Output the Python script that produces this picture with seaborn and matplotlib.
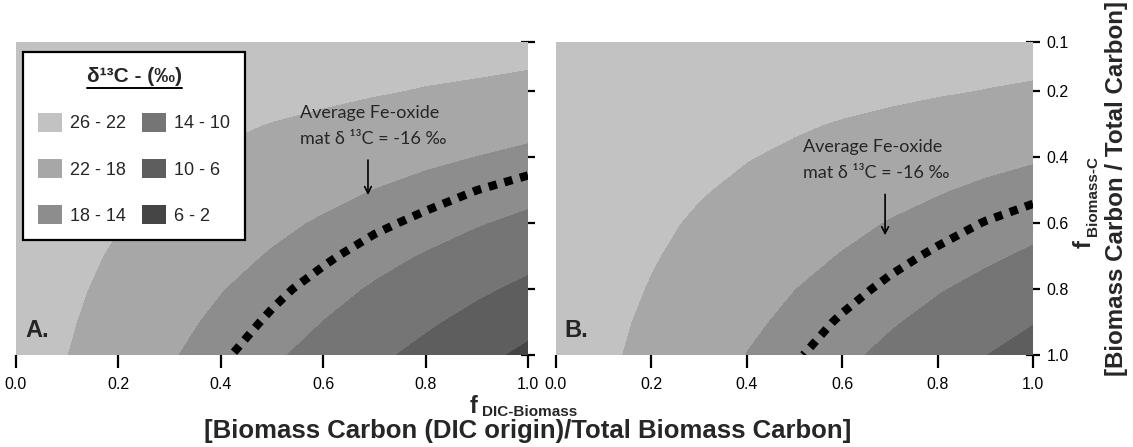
import numpy as np
import matplotlib
matplotlib.use("Agg")
import matplotlib.pyplot as plt
import seaborn as sns
from matplotlib.patches import Patch
from matplotlib.lines import Line2D

# grid: fraction of DIC-derived biomass (x) and biomass share of total carbon (y)
x_frac = [0.0, 0.1, 0.2, 0.3, 0.4, 0.5, 0.6, 0.7, 0.8, 0.9, 1.0]
y_frac = [0.1, 0.2, 0.3, 0.4, 0.5, 0.6, 0.7, 0.8, 0.9, 1.0]

# delta13C magnitude (per mil, negative sign dropped) - panel A
d13c_a = [
    [25.0, 24.8, 24.6, 24.4, 24.2, 24.0, 23.9, 23.7, 23.5, 23.3, 23.1],
    [24.9, 24.5, 24.1, 23.7, 23.4, 23.0, 22.6, 22.2, 21.8, 21.5, 21.1],
    [24.7, 24.2, 23.6, 23.0, 22.5, 21.9, 21.4, 20.8, 20.2, 19.7, 19.1],
    [24.6, 23.9, 23.1, 22.4, 21.6, 20.9, 20.1, 19.4, 18.6, 17.9, 17.1],
    [24.5, 23.6, 22.6, 21.7, 20.7, 19.8, 18.9, 17.9, 17.0, 16.0, 15.1],
    [24.4, 23.3, 22.1, 21.0, 19.9, 18.7, 17.6, 16.5, 15.4, 14.2, 13.1],
    [24.3, 22.9, 21.6, 20.3, 19.0, 17.7, 16.4, 15.0, 13.7, 12.4, 11.1],
    [24.1, 22.6, 21.1, 19.6, 18.1, 16.6, 15.1, 13.6, 12.1, 10.6, 9.1],
    [24.0, 22.3, 20.6, 18.9, 17.3, 15.6, 13.9, 12.2, 10.5, 8.8, 7.1],
    [23.9, 22.0, 20.1, 18.3, 16.4, 14.5, 12.6, 10.7, 8.9, 7.0, 5.1],
]
# panel B
d13c_b = [
    [24.8, 24.7, 24.5, 24.4, 24.2, 24.0, 23.9, 23.7, 23.6, 23.4, 23.3],
    [24.8, 24.4, 24.1, 23.8, 23.5, 23.2, 22.9, 22.5, 22.2, 21.9, 21.6],
    [24.7, 24.2, 23.7, 23.3, 22.8, 22.3, 21.8, 21.4, 20.9, 20.4, 19.9],
    [24.6, 24.0, 23.4, 22.7, 22.1, 21.5, 20.8, 20.2, 19.6, 18.9, 18.3],
    [24.6, 23.8, 23.0, 22.2, 21.4, 20.6, 19.8, 19.0, 18.2, 17.4, 16.7],
    [24.5, 23.5, 22.6, 21.6, 20.7, 19.7, 18.8, 17.8, 16.9, 15.9, 15.0],
    [24.4, 23.3, 22.2, 21.1, 20.0, 18.9, 17.8, 16.7, 15.6, 14.5, 13.4],
    [24.3, 23.1, 21.8, 20.5, 19.3, 18.0, 16.8, 15.5, 14.2, 13.0, 11.7],
    [24.3, 22.8, 21.4, 20.0, 18.6, 17.2, 15.7, 14.3, 12.9, 11.5, 10.1],
    [24.2, 22.6, 21.0, 19.5, 17.9, 16.3, 14.7, 13.1, 11.6, 10.0, 8.4],
]

band_levels = [2, 6, 10, 14, 18, 22, 26]
band_labels = ['26 - 22', '22 - 18', '18 - 14', '14 - 10', '10 - 6', '6 - 2']
band_colors = ['#c2c2c2', '#a7a7a7', '#8d8d8d', '#757575', '#5e5e5e', '#454545']
fe_oxide_level = 16

x_ticks = [0.0, 0.2, 0.4, 0.6, 0.8, 1.0]
y_ticks = [0.1, 0.2, 0.4, 0.6, 0.8, 1.0]

sns.set_theme(style='white')
plt.rcParams['font.family'] = ['Liberation Sans', 'DejaVu Sans']
note_font = ['Lato', 'DejaVu Sans']


# y axis in the original is stretched between 0.1 and 0.2
def y_fwd(y):
    return np.interp(y, [-10, 0.1, 0.2, 10], [-15.1, 0.05, 0.2, 10])


def y_inv(v):
    return np.interp(v, [-15.1, 0.05, 0.2, 10], [-10, 0.1, 0.2, 10])


fig = plt.figure(figsize=(11.33, 4.47), dpi=100)
ax_a = fig.add_axes([0.0141, 0.2058, 0.4519, 0.7002])
ax_b = fig.add_axes([0.4907, 0.2058, 0.4210, 0.7002])


def draw_panel(ax, z, tag, note_xy, arrow_x, arrow_y):
    z = np.array(z)
    ax.set_yscale('function', functions=(y_fwd, y_inv))
    ax.contourf(x_frac, y_frac, z, levels=band_levels, colors=band_colors[::-1])
    cs = ax.contour(x_frac, y_frac, z, levels=[fe_oxide_level], colors='black', linewidths=6)
    cs.set_linestyle((0, (1, 0.95)))
    cs.set_capstyle('butt')
    ax.set_xlim(0, 1)
    ax.set_ylim(1.0, 0.1)
    for s in ax.spines.values():
        s.set_visible(False)
    ax.set_xticks(x_ticks)
    ax.set_xticklabels(['%.1f' % t for t in x_ticks])
    ax.yaxis.tick_right()
    ax.set_yticks(y_ticks)
    ax.set_yticklabels(['%.1f' % t for t in y_ticks])
    ax.tick_params(axis='x', bottom=True, direction='out', length=9, width=1.6,
                   pad=7, labelsize=11.5, colors='black')
    ax.tick_params(axis='y', right=True, left=False, direction='inout', length=10,
                   width=1.6, pad=5, labelsize=11.5, colors='black')
    ax.text(0.018, 0.04, tag, transform=ax.transAxes, fontsize=17,
            fontweight='bold', va='bottom', ha='left')
    ax.text(note_xy[0], note_xy[1], 'Average Fe-oxide\nmat \u03b4 \u00b9\u00b3C = -16 \u2030',
            family=note_font, fontsize=13, ha='left', va='center', linespacing=1.75)
    ax.annotate('', xy=(arrow_x, arrow_y[1]), xytext=(arrow_x, arrow_y[0]),
                arrowprops=dict(arrowstyle='->', color='black', lw=1.2))


draw_panel(ax_a, d13c_a, 'A.', (0.555, 0.305), 0.6875, (0.40, 0.523))
draw_panel(ax_b, d13c_b, 'B.', (0.518, 0.407), 0.69, (0.504, 0.645))
ax_a.tick_params(axis='y', labelright=False)

# legend
handles = [Patch(facecolor=c, edgecolor='none') for c in band_colors]
leg = ax_a.legend(handles, band_labels, ncol=2, loc='upper left',
                  bbox_to_anchor=(0.0137, 0.968), borderaxespad=0,
                  fontsize=13, title='\u03b4\u00b9\u00b3C - (\u2030)',
                  title_fontproperties={'weight': 'bold', 'size': 15},
                  handlelength=1.3, handleheight=1.3, handletextpad=0.45,
                  labelspacing=1.45, columnspacing=0.9, borderpad=0.85,
                  fancybox=False, frameon=True)
leg.get_frame().set_edgecolor('black')
leg.get_frame().set_linewidth(1.6)
leg.get_frame().set_facecolor('white')
leg.get_frame().set_alpha(1)

# axis titles
fig.text(470 / 1133, 1 - 413 / 447, 'f', fontsize=17, fontweight='bold', ha='left', va='baseline')
fig.text(482 / 1133, 1 - 416 / 447, 'DIC-Biomass', fontsize=11, fontweight='bold', ha='left', va='baseline')
fig.text(528 / 1133, 1 - 431 / 447, '[Biomass Carbon (DIC origin)/Total Biomass Carbon]',
         fontsize=18.5, fontweight='bold', ha='center', va='center')
fig.text(1096 / 1133, 1 - 248 / 447, 'f', fontsize=17, fontweight='bold', rotation=90,
         ha='right', va='bottom')
fig.text(1100 / 1133, 1 - 236 / 447, 'Biomass-C', fontsize=11, fontweight='bold', rotation=90,
         ha='right', va='bottom')
fig.text(1117 / 1133, 1 - 189 / 447, '[Biomass Carbon / Total Carbon]',
         fontsize=17.4, fontweight='bold', rotation=90, ha='center', va='center')

# underline the legend title
fig.canvas.draw()
r = fig.canvas.get_renderer()
bb = leg.get_title().get_window_extent(r).transformed(fig.transFigure.inverted())
fig.add_artist(Line2D([bb.x0, bb.x1], [bb.y0 - 0.004] * 2, transform=fig.transFigure,
                      color='black', lw=1.4))

fig.savefig('out.png', dpi=100)
